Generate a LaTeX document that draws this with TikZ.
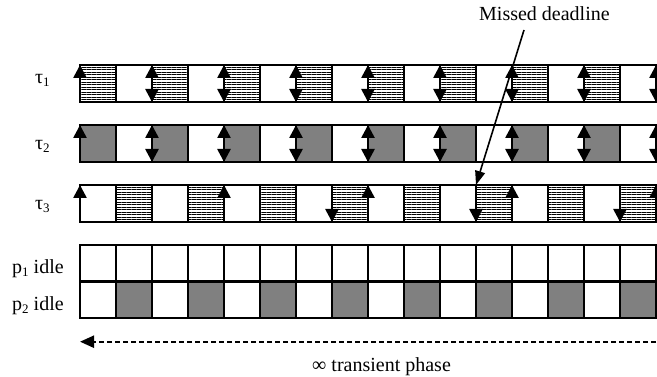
\documentclass[tikz,border=0pt]{standalone}
\usepackage{fontspec}
\setmainfont{Liberation Serif}
\usetikzlibrary{arrows.meta,patterns.meta}
\definecolor{busygray}{gray}{0.5}
\tikzset{
    cellline/.style={line width=2pt},
    rowframe/.style={line width=2.6pt},
    hatched/.style={pattern={Lines[angle=0,distance=2.5pt,line width=0.9pt]}},
    busy/.style={fill=busygray},
    relarrow/.style={line width=2.6pt,-{Triangle[width=13pt,length=13pt]}},
    botharrow/.style={line width=2.6pt,{Triangle[width=13pt,length=13pt]}-{Triangle[width=13pt,length=13pt]}},
    missarrow/.style={line width=1.6pt,-{Triangle[width=10pt,length=14pt]}},
    phasearrow/.style={line width=2.2pt,dash pattern=on 5.5pt off 2.5pt,-{Triangle[width=12pt,length=14pt]}},
    tasklabel/.style={font=\fontsize{20}{24}\selectfont,inner sep=0pt,anchor=base west},
}
\newcommand\idx[1]{\raisebox{-3pt}{\fontsize{13}{13}\selectfont #1}}
% #1 top, #2 bottom
\newcommand\CellRow[2]{%
    \foreach \k in {1,...,15}
        \draw[cellline] (80+36*\k,#1) -- (80+36*\k,#2);
    \draw[rowframe] (80,#1) rectangle (656,#2);
}
% #1 top, #2 bottom, #3 cells, #4 style
\newcommand\FillCells[4]{%
    \foreach \k in {#3}
        \fill[#4] (80+36*\k,#1) rectangle (116+36*\k,#2);
}

\begin{document}
\begin{tikzpicture}[x=1pt,y=-1pt]
    \useasboundingbox (0,0) rectangle (657,377);
    \begin{scope} % tau_1
        \FillCells{65}{102}{0,2,...,14}{hatched}
        \CellRow{65}{102}
        \draw[relarrow] (80,102) -- (80,65);
        \foreach \k in {2,4,...,16}
            \draw[botharrow] (80+36*\k,102) -- (80+36*\k,65);
        \node[tasklabel] (t1) at (35,84) {τ\idx{1}};
    \end{scope}
    \begin{scope} % tau_2
        \FillCells{125}{162}{0,2,...,14}{busy}
        \CellRow{125}{162}
        \draw[relarrow] (80,162) -- (80,125);
        \foreach \k in {2,4,...,16}
            \draw[botharrow] (80+36*\k,162) -- (80+36*\k,125);
        \node[tasklabel] (t2) at (35,150) {τ\idx{2}};
    \end{scope}
    \begin{scope} % tau_3
        \FillCells{185}{222}{1,3,...,15}{hatched}
        \CellRow{185}{222}
        \foreach \k in {0,4,...,16}
            \draw[relarrow] (80+36*\k,222) -- (80+36*\k,185);
        \foreach \k in {7,11,15}
            \draw[relarrow] (80+36*\k,185) -- (80+36*\k,222);
        \node[tasklabel] (t3) at (35,210) {τ\idx{3}};
        \coordinate (miss) at (476,185);
    \end{scope}
    % missed deadline
    \node[tasklabel] (missed) at (479,21) {Missed deadline};
    \coordinate (missfrom) at (524,30);
    \draw[missarrow] (missfrom) -- (miss);
    \begin{scope} % idle processors
        \FillCells{281.5}{318}{1,3,...,15}{busy}
        \CellRow{245}{318}
        \draw[rowframe] (80,281.5) -- (656,281.5);
        \node[tasklabel] (p1) at (12,274) {p\idx{1} idle};
        \node[tasklabel] (p2) at (12,310) {p\idx{2} idle};
    \end{scope}
    % transient phase
    \coordinate (phasefrom) at (656,341.7);
    \coordinate (phaseto) at (80,341.7);
    \draw[phasearrow] (phasefrom) -- (phaseto);
    \node[tasklabel] (phase) at (312,371.5) {∞ transient phase};
\end{tikzpicture}
\end{document}
